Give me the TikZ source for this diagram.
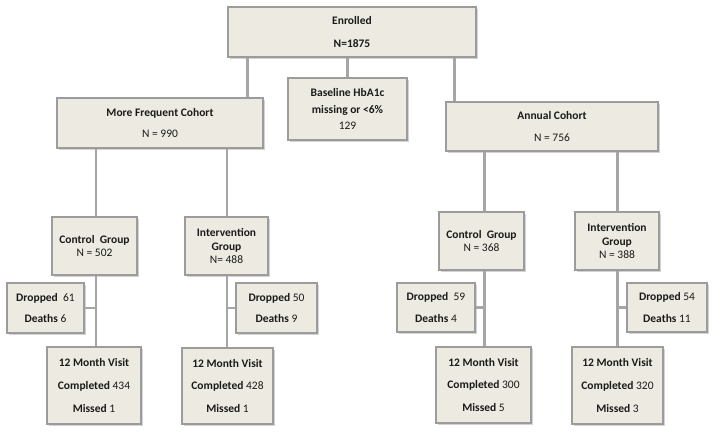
\documentclass[tikz,border=0pt]{standalone}
\usepackage{fontspec}
\setmainfont{Carlito}
\usetikzlibrary{shadows,calc}
\definecolor{boxfill}{HTML}{EDEBE1}
\definecolor{boxline}{HTML}{9C9C9C}
\definecolor{conn}{HTML}{A6A6A6}
\definecolor{txt}{HTML}{1A1A1A}
\tikzset{
  box/.style={draw=boxline, line width=2.8pt, fill=boxfill, align=center, inner sep=1pt,
    font=\fontsize{11.5}{13.8}\selectfont, text=txt,
    drop shadow={shadow xshift=1.6pt, shadow yshift=-1.6pt, opacity=0.35, fill=gray}},
  link/.style={draw=conn, line width=2.6pt}
}
\begin{document}
\begin{tikzpicture}[x=1pt,y=-1pt]
\useasboundingbox (0,0) rectangle (715,433);
% connector anchors
\coordinate (m1) at (96,0);
\coordinate (m2) at (227,0);
% nodes
\node[box, minimum width=248pt, minimum height=50pt] (enr) at (352,32) {\textbf{Enrolled}\\[9pt]\textbf{N=1875}};
\node[box, minimum width=206pt, minimum height=50pt] (mfc) at (160,123) {\textbf{More Frequent Cohort}\\[8pt]N = 990};
\node[box, minimum width=119pt, minimum height=62pt] (base) at (347.5,109) {\textbf{Baseline HbA1c}\\[3pt]\textbf{missing or <6\%}\\[2pt]129};
\node[box, minimum width=212pt, minimum height=49pt] (ann) at (552,126.5) {\textbf{Annual Cohort}\\[8pt]N = 756};
\node[box, minimum width=85pt, minimum height=58pt] (cg1) at (94.5,246) {\textbf{Control\ \ Group}\\[0pt]N = 502};
\node[box, minimum width=83pt, minimum height=58pt] (ig1) at (226.5,246) {\textbf{Intervention}\\[0pt]\textbf{Group}\\[0pt]N= 488};
\node[box, minimum width=85pt, minimum height=58pt] (cg2) at (481.5,241) {\textbf{Control\ \ Group}\\[0pt]N = 368};
\node[box, minimum width=84pt, minimum height=58pt] (ig2) at (617,241) {\textbf{Intervention}\\[0pt]\textbf{Group}\\[0pt]N = 388};
\node[box, minimum width=77pt, minimum height=50pt] (dr1) at (45.5,308) {\textbf{Dropped}\ \ 61\\[8pt]\textbf{Deaths} 6};
\node[box, minimum width=81pt, minimum height=50pt] (dr2) at (276.5,308) {\textbf{Dropped} 50\\[8pt]\textbf{Deaths} 9};
\node[box, minimum width=78pt, minimum height=49pt] (dr3) at (436,307.5) {\textbf{Dropped}\ \ 59\\[8pt]\textbf{Deaths} 4};
\node[box, minimum width=80pt, minimum height=49pt] (dr4) at (667,307.5) {\textbf{Dropped} 54\\[8pt]\textbf{Deaths} 11};
\node[box, minimum width=94pt, minimum height=77pt] (mv1) at (94,385.5) {\textbf{12 Month Visit}\\[9pt]\textbf{Completed} 434\\[9pt]\textbf{Missed} 1};
\node[box, minimum width=91pt, minimum height=76pt] (mv2) at (227.5,386) {\textbf{12 Month Visit}\\[9pt]\textbf{Completed} 428\\[9pt]\textbf{Missed} 1};
\node[box, minimum width=95pt, minimum height=76pt] (mv3) at (483.5,385) {\textbf{12 Month Visit}\\[9pt]\textbf{Completed} 300\\[9pt]\textbf{Missed} 5};
\node[box, minimum width=91pt, minimum height=77pt] (mv4) at (617.5,385.5) {\textbf{12 Month Visit}\\[9pt]\textbf{Completed} 320\\[9pt]\textbf{Missed} 3};
% connectors
\coordinate (e1) at ($(enr.south west)+(21,0)$);
\coordinate (e3) at ($(enr.south east)+(-23,0)$);
\coordinate (a1) at ($(ann.south west)+(40,0)$);
\coordinate (a2) at ($(ann.south east)+(-42,0)$);
\path[link] (e1) -- (e1 |- mfc.north);
\path[link] (base.north |- enr.south) -- (base.north);
\path[link] (e3) -- (e3 |- ann.north);
\path[link] (m1 |- mfc.south) -- (m1 |- cg1.north);
\path[link] (m2 |- mfc.south) -- (m2 |- ig1.north);
\path[link] (m1 |- cg1.south) -- (m1 |- mv1.north);
\path[link] (m2 |- ig1.south) -- (m2 |- mv2.north);
\path[link] (dr1.east) -- (dr1.east -| m1);
\path[link] (dr2.west) -- (dr2.west -| m2);
\path[link] (a1) -- (a1 |- cg2.north);
\path[link] (a2) -- (a2 |- ig2.north);
\path[link] (a1 |- cg2.south) -- (a1 |- mv3.north);
\path[link] (a2 |- ig2.south) -- (a2 |- mv4.north);
\path[link] (dr3.east) -- (dr3.east -| a1);
\path[link] (dr4.west) -- (dr4.west -| a2);
\end{tikzpicture}
\end{document}
